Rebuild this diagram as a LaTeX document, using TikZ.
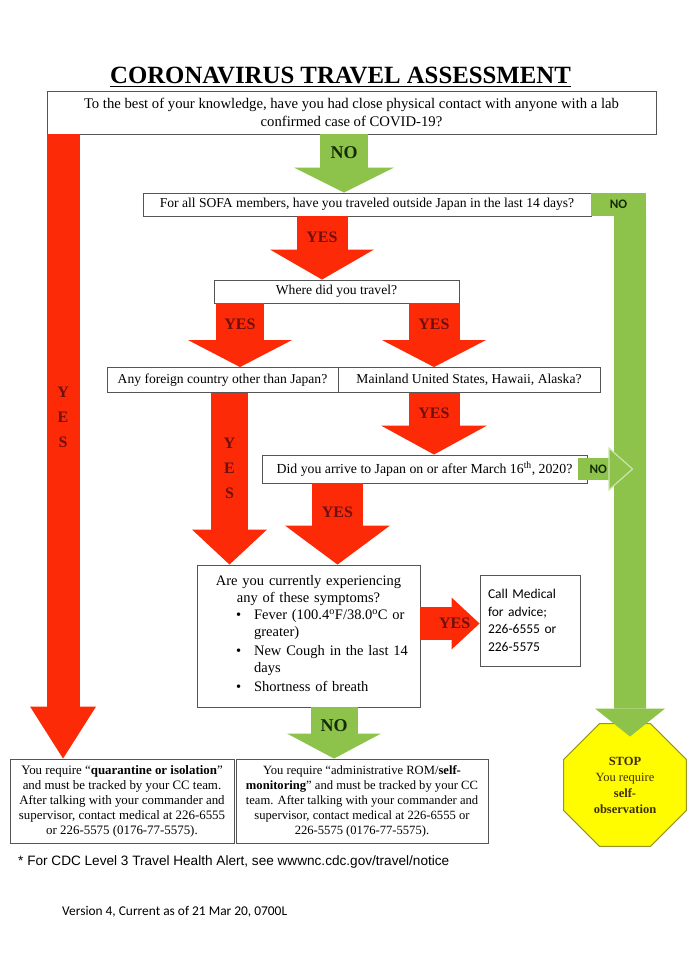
\documentclass[tikz,border=0pt]{standalone}
\usepackage{fontspec}
\setmainfont{Liberation Serif}
\setsansfont{Carlito}
\newfontfamily\arialfont{Liberation Sans}
\usetikzlibrary{positioning,arrows.meta,shapes.geometric}

\definecolor{alertred}{RGB}{252,42,6}
\definecolor{okgreen}{RGB}{141,195,74}
\definecolor{yestext}{RGB}{110,16,16}
\definecolor{notext}{RGB}{22,42,8}
\definecolor{stopyellow}{RGB}{255,252,0}
\definecolor{stopline}{RGB}{150,150,40}
\definecolor{stoptext}{RGB}{62,46,4}
\definecolor{boxgray}{RGB}{85,85,85}

\tikzset{
  question/.style={draw=boxgray, line width=0.9pt, inner sep=0pt, align=center, font=\fontsize{13.6}{16}\selectfont},
  fatarrow/.style n args={4}{draw=#1, line width=#2, -{Triangle[width=#3, length=#4, line width=0pt]}},
  redarrow/.style n args={3}{fatarrow={alertred}{#1}{#2}{#3}},
  greenarrow/.style n args={3}{fatarrow={okgreen}{#1}{#2}{#3}},
  yeslabel/.style={font=\bfseries\fontsize{16}{25}\selectfont, text=yestext, align=center},
  nolabel/.style={font=\bfseries\fontsize{18}{18}\selectfont, text=notext},
  nosans/.style={font=\sffamily\bfseries\fontsize{13}{13}\selectfont, text=notext},
}

\begin{document}
\begin{tikzpicture}[x=1pt,y=-1pt]
\useasboundingbox (0,0) rectangle (698,960);

\node[anchor=base, inner sep=0pt, font=\bfseries\fontsize{24.8}{24}\selectfont] (title) at (340.5,84) {\underline{CORONAVIRUS TRAVEL ASSESSMENT}};

% questions
\node[question, font=\fontsize{14.7}{18}\selectfont, minimum width=609pt, minimum height=43pt] (contact) at (351.5,112.5) {To the best of your knowledge, have you had close physical contact with anyone with a lab\\confirmed case of COVID-19?};
\node[question, minimum width=448pt, minimum height=23pt] (sofa) at (367,204.5) {For all SOFA members, have you traveled outside Japan in the last 14 days?};
\node[fill=okgreen, minimum width=55pt, minimum height=23pt, inner sep=0pt, nosans] (nosofa) at (618.5,204.5) {NO};
\node[question, minimum width=245pt, minimum height=23pt] (travel) at (336.5,291.5) {Where did you travel?};
\node[question, minimum width=231pt, minimum height=25pt] (foreign) at (222.5,380) {Any foreign country other than Japan?};
\node[question, minimum width=262pt, minimum height=25pt] (mainland) at (469,380) {Mainland United States, Hawaii, Alaska?};
\node[question, font=\fontsize{13.8}{16}\selectfont, minimum width=325pt, minimum height=28pt] (arrive) at (424.5,469) {Did you arrive to Japan on or after March 16\textsuperscript{th}, 2020?};
\node[question, minimum width=223pt, minimum height=142pt, text width=211pt, font=\fontsize{14.5}{17}\selectfont] (symp) at (308.5,636) {Are you currently experiencing\\any of these symptoms?\\
  \makebox[211pt][l]{\hspace*{33pt}\begin{tabular}[t]{@{}l@{\hspace{13pt}}l@{}}
  \textbullet & Fever (100.4\textsuperscript{o}F/38.0\textsuperscript{o}C or\\
   & greater)\\[2pt]
  \textbullet & New Cough in the last 14\\
   & days\\[2pt]
  \textbullet & Shortness of breath
  \end{tabular}}};
\node[draw=boxgray, line width=0.9pt, inner sep=0pt, minimum width=100pt, minimum height=91pt, text width=84pt, align=left, font=\sffamily\fontsize{13.5}{17.5}\selectfont] (call) at (530,620.5) {Call Medical\\for advice;\\226-6555 or\\226-5575};

% outcomes
\node[question, font=\fontsize{12.9}{15}\selectfont, minimum width=224pt, minimum height=84pt] (quar) at (122,801) {You require “\textbf{quarantine or isolation}”\\and must be tracked by your CC team.\\After talking with your commander and\\supervisor, contact medical at 226-6555\\or 226-5575 (0176-77-5575).};
\node[question, font=\fontsize{12.6}{15}\selectfont, minimum width=252pt, minimum height=84pt] (rom) at (362,801) {You require “administrative ROM/\textbf{self-}\\\textbf{monitoring}” and must be tracked by your CC\\team. After talking with your commander and\\supervisor, contact medical at 226-6555 or\\226-5575 (0176-77-5575).};
\node[regular polygon, regular polygon sides=8, minimum size=133pt, inner sep=0pt, fill=stopyellow, draw=stopline, line width=1pt, text=stoptext, align=center, font=\fontsize{12.5}{16}\selectfont] (stop) at (625,785) {\textbf{STOP}\\You require\\\textbf{self-}\\\textbf{observation}};

\node[anchor=base west, inner sep=0pt, font=\arialfont\fontsize{13.6}{14}\selectfont] (cdc) at (18,865) {* For CDC Level 3 Travel Health Alert, see wwwnc.cdc.gov/travel/notice};
\node[anchor=base west, inner sep=0pt, font=\sffamily\fontsize{13.4}{14}\selectfont] (version) at (62,915) {Version 4, Current as of 21 Mar 20, 0700L};

% arrows
\draw[redarrow={33pt}{66pt}{52pt}] ([xshift=16.5pt]contact.south west) coordinate (y0) -- (y0 |- quar.north) node[pos=0.454, yeslabel] {Y\\E\\S};
\draw[greenarrow={48pt}{100pt}{25pt}] ([xshift=-7.5pt]contact.south) coordinate (n0) -- (n0 |- sofa.north) node[pos=0.31, nolabel] {NO};
\draw[redarrow={51pt}{104pt}{30pt}] ([xshift=-45pt]sofa.south) coordinate (y1) -- (y1 |- travel.north) node[pos=0.33, yeslabel] {YES};
\draw[redarrow={48pt}{104pt}{27pt}] ([xshift=-96.5pt]travel.south) coordinate (y2) -- (y2 |- foreign.north) node[pos=0.33, yeslabel] {YES};
\draw[redarrow={51pt}{104pt}{27pt}] ([xshift=97.5pt]travel.south) coordinate (y3) -- (y3 |- mainland.north) node[pos=0.33, yeslabel] {YES};
\draw[redarrow={51pt}{106pt}{29pt}] ([xshift=-35pt]mainland.south) coordinate (y4) -- (y4 |- arrive.north) node[pos=0.33, yeslabel] {YES};
\draw[redarrow={37pt}{75pt}{35pt}] ([xshift=7pt]foreign.south) coordinate (y5) -- (y5 |- symp.north) node[pos=0.44, yeslabel] {Y\\E\\S};
\draw[redarrow={51pt}{105pt}{39pt}] ([xshift=-87pt]arrive.south) coordinate (y6) -- (y6 |- symp.north) node[pos=0.35, yeslabel] {YES};
\draw[redarrow={33pt}{52pt}{28pt}] ([yshift=12.5pt]symp.east) coordinate (y7) -- (y7 -| call.west) node[pos=0.58, yeslabel] {YES};
\draw[greenarrow={32pt}{70pt}{28pt}] ([xshift=11.5pt]nosofa.south) -- ([xshift=5pt,yshift=-13.5pt]stop.north);
\draw[draw=okgreen, line width=22pt, -{Triangle[width=44pt, length=25pt, line width=1.2pt, color=okgreen!45!white, fill=okgreen]}] ([xshift=-9pt]arrive.east) -- ([xshift=46pt]arrive.east) node[pos=0.36, nosans] {NO};
\draw[greenarrow={47pt}{94pt}{25pt}] ([xshift=25.5pt]symp.south) coordinate (n2) -- (n2 |- rom.north) node[pos=0.35, nolabel] {NO};
\end{tikzpicture}
\end{document}
